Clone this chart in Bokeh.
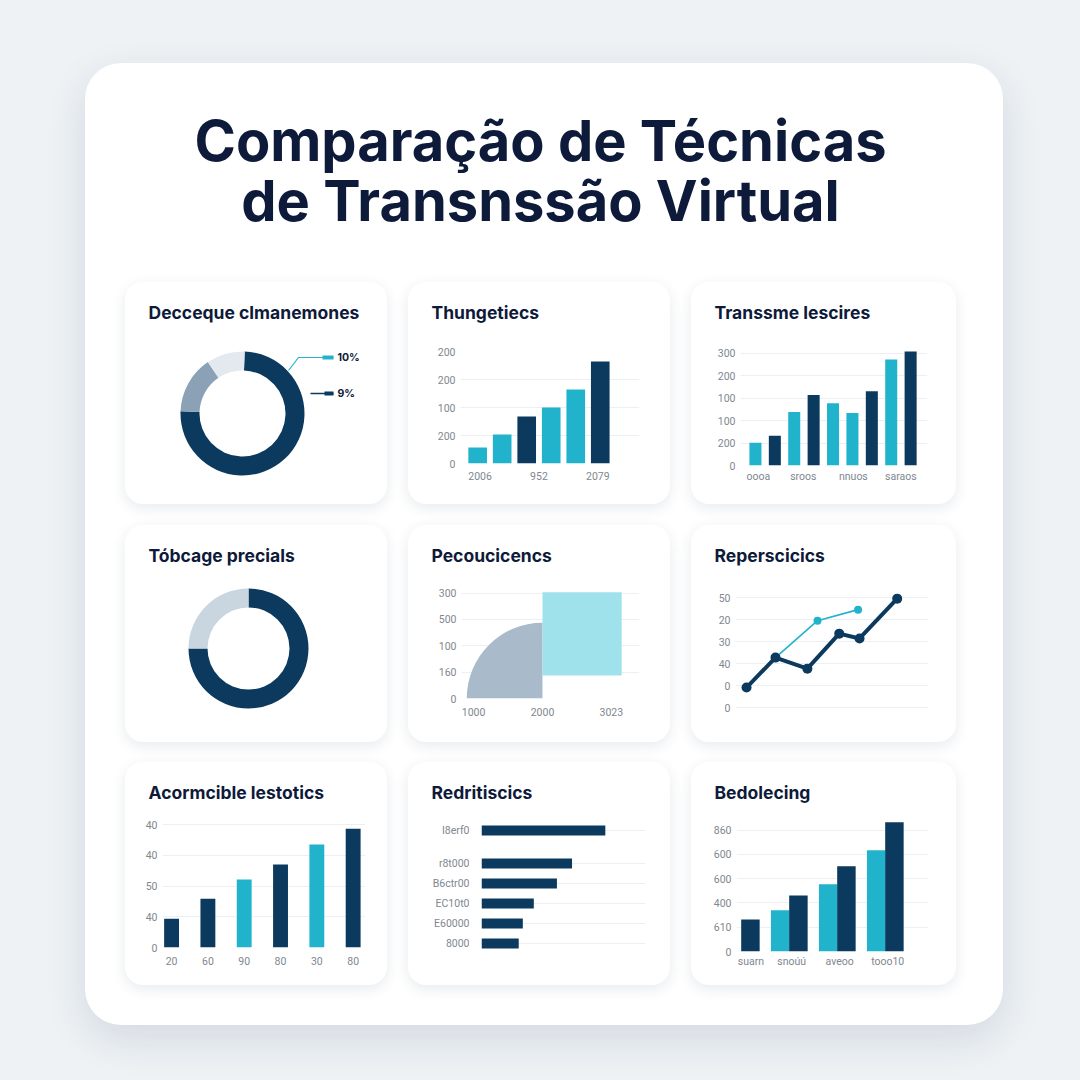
from bokeh.plotting import figure
from bokeh.layouts import column, row
from bokeh.models import Spacer, FixedTicker, ColumnDataSource
from bokeh.core.properties import value
from bokeh.embed import file_html
from bokeh.resources import INLINE

# ---------------- data ----------------
TITLE_1 = "Comparação de Técnicas"
TITLE_2 = "de Transnssão Virtual"

# panel 1 : donut
dec_title = "Decceque clmanemones"
dec_shares = [75, 15, 10]
dec_callouts = ["10%", "9%"]

# panel 2 : bars
thu_title = "Thungetiecs"
thu_values = [57, 104, 168, 200, 264, 364]
thu_kind = ["t", "t", "n", "t", "t", "n"]
thu_yticks = [0, 100, 200, 300, 400]
thu_ylabels = ["0", "200", "100", "200", "200"]
thu_xticks = [1.1, 3.5, 5.9]
thu_xlabels = ["2006", "952", "2079"]

# panel 3 : bars
tra_title = "Transsme lescires"
tra_values = [101, 132, 238, 313, 277, 233, 330, 471, 507]
tra_kind = ["t", "n", "t", "n", "t", "t", "n", "t", "n"]
tra_yticks = [0, 100, 200, 300, 400, 500]
tra_ylabels = ["0", "200", "100", "100", "200", "300"]
tra_xticks = [1.15, 3.47, 6.05, 8.5]
tra_xlabels = ["oooa", "sroos", "nnuos", "saraos"]

# panel 4 : donut
tob_title = "Tóbcage precials"
tob_shares = [75, 25]

# panel 5 : area shapes
pec_title = "Pecoucicencs"
pec_wedge_x = [2000]
pec_wedge_r = [1100]
pec_block_left = [2000]
pec_block_right = [3150]
pec_block_bottom = [87]
pec_block_top = [403]
pec_xticks = [1000, 2000, 3000]
pec_xlabels = ["1000", "2000", "3023"]
pec_yticks = [0, 100, 200, 300, 400]
pec_ylabels = ["0", "160", "100", "500", "300"]

# panel 6 : lines
rep_title = "Reperscicics"
rep_x = [0, 1, 2.1, 3.2, 3.9, 5.2]
rep_y = [9.1, 22.7, 17.7, 33.6, 31.4, 49.5]
rep2_x = [1, 2.45, 3.85]
rep2_y = [22.7, 39.5, 44.5]
rep_yticks = [0, 10, 20, 30, 40, 50]
rep_ylabels = ["0", "0", "40", "30", "20", "50"]

# panel 7 : bars
aco_title = "Acormcible lestotics"
aco_values = [9.4, 15.9, 22.1, 27.0, 33.5, 38.7]
aco_kind = ["n", "n", "t", "n", "t", "n"]
aco_xlabels = ["20", "60", "90", "80", "30", "80"]
aco_yticks = [0, 10, 20, 30, 40]
aco_ylabels = ["0", "40", "50", "40", "40"]

# panel 8 : horizontal bars
red_title = "Redritiscics"
red_labels = ["I8erf0", "r8t000", "B6ctr00", "EC10t0", "E60000", "8000"]
red_values = [75.5, 55.2, 46.0, 31.9, 25.2, 22.7]
red_pos = [5.65, 4, 3, 2, 1, 0]

# panel 9 : grouped bars
bed_title = "Bedolecing"
bed_groups = ["suarn", "snoúú", "aveoo", "tooo10"]
bed_teal = [0, 170, 277, 417]
bed_navy = [132, 231, 351, 533]
bed_xticks = [1.2, 2.05, 3.05, 4.05]
bed_yticks = [0, 100, 200, 300, 400, 500]
bed_ylabels = ["0", "610", "400", "600", "600", "860"]

# ---------------- style ----------------
NAVY = "#0c3a5e"
TEAL = "#22b3cc"
SLATE = "#8ba2b6"
LIGHT = "#e3e9ef"
LIGHT2 = "#c9d5df"
INK = "#0e1a3a"
GRID = "#eceff3"
TICK = "#80878f"
BG = "#eef2f5"
FONT = "Inter"
KIND = {"n": NAVY, "t": TEAL}
TH = 50  # height of a panel's title strip

panel_styles = {
    "background-color": "white",
    "border-radius": "18px",
    "box-shadow": "0 4px 14px rgba(20,45,80,0.10)",
}


def blank(p):
    p.border_fill_color = None
    p.background_fill_color = None
    p.outline_line_color = None
    p.frame_align = False
    return p


def title_strip(w, text):
    t = figure(width=w, height=TH, x_range=(0, w), y_range=(0, TH),
               output_backend="svg", toolbar_location=None,
               x_axis_type=None, y_axis_type=None, min_border=0)
    blank(t)
    t.grid.grid_line_color = None
    t.text(x=[23], y=[20], text=[text], text_baseline="middle",
           text_font=value(FONT), text_font_style="bold",
           text_font_size="17.5px", text_color=INK)
    return t


def chart(w, h, bl, br, bt, bb, xr, yr, xaxis=True, yaxis=True, xs=6):
    p = figure(width=w, height=h - TH, x_range=xr, y_range=yr,
               output_backend="svg", toolbar_location=None,
               min_border_left=bl, min_border_right=br,
               min_border_top=bt, min_border_bottom=bb,
               x_axis_type="linear" if xaxis else None,
               y_axis_type="linear" if yaxis else None)
    blank(p)
    for ax in p.axis:
        ax.axis_line_color = None
        ax.major_tick_line_color = None
        ax.minor_tick_line_color = None
        ax.major_tick_out = 0
        ax.major_tick_in = 0
        ax.major_label_text_font = "Roboto"
        ax.major_label_text_font_size = "10.5px"
        ax.major_label_text_color = TICK
    for ax in p.xaxis:
        ax.major_label_standoff = xs
    for ax in p.yaxis:
        ax.major_label_standoff = 5
    for g in p.xgrid:
        g.grid_line_color = None
    for g in p.ygrid:
        g.grid_line_color = GRID
        g.grid_line_width = 1
    return p


def card_of(w, text, p):
    return column(title_strip(w, text), p, styles=panel_styles)


def set_ticks(axis, ticks, labels):
    axis.ticker = FixedTicker(ticks=ticks)
    axis.major_label_overrides = {t: l for t, l in zip(ticks, labels)}


def donut(p, cx, cy, r_in, r_out, shares, colors, start_deg):
    starts, ends = [], []
    acc = 0.0
    total = float(sum(shares))
    for s in shares:
        a0 = start_deg - acc / total * 360.0
        a1 = a0 - s / total * 360.0
        starts.append(a0)
        ends.append(a1)
        acc += s
    src = ColumnDataSource(dict(x=[cx] * len(shares), y=[cy] * len(shares),
                                s=starts, e=ends, c=colors))
    p.annular_wedge(x="x", y="y", inner_radius=r_in, outer_radius=r_out,
                    start_angle="s", end_angle="e", start_angle_units="deg",
                    end_angle_units="deg", direction="clock",
                    fill_color="c", line_color=None, source=src)


# ---------------- main title ----------------
tp = figure(width=918, height=219, x_range=(0, 918), y_range=(0, 219),
            output_backend="svg", toolbar_location=None,
            x_axis_type=None, y_axis_type=None, min_border=0)
blank(tp)
tp.grid.grid_line_color = None
tp.text(x=[455, 455], y=[142, 82], text=[TITLE_1, TITLE_2],
        text_align="center", text_baseline="middle",
        text_font=value(FONT), text_font_style="bold",
        text_font_size="56px", text_color=INK)

# ---------------- panel 1 ----------------
p1 = chart(262, 222, 0, 0, 0, 0, (0, 262), (0, 172), False, False)
p1.grid.grid_line_color = None
donut(p1, 117, 91, 43, 62, dec_shares, [NAVY, SLATE, LIGHT], 88)
p1.line(x=[163, 173, 208], y=[134, 147, 147], line_color=TEAL, line_width=1.2)
p1.line(x=[197, 208], y=[147, 147], line_color=TEAL, line_width=4)
p1.line(x=[185, 208], y=[111, 111], line_color=NAVY, line_width=1.5)
p1.line(x=[199, 208], y=[111, 111], line_color=NAVY, line_width=4)
p1.text(x=[212, 212], y=[147, 111], text=dec_callouts, text_baseline="middle",
        text_font=value(FONT), text_font_size="10.5px", text_font_style="bold",
        text_color=INK)
c1 = card_of(262, dec_title, p1)

# ---------------- panel 2 ----------------
p2 = chart(262, 222, 52, 31, 19, 41, (0.3, 7.6), (0, 400), xs=8)
p2.vbar(x=list(range(1, len(thu_values) + 1)), top=thu_values, width=0.76,
        fill_color=[KIND[k] for k in thu_kind], line_color=None)
set_ticks(p2.yaxis[0], thu_yticks, thu_ylabels)
set_ticks(p2.xaxis[0], thu_xticks, thu_xlabels)
c2 = card_of(262, thu_title, p2)

# ---------------- panel 3 ----------------
p3 = chart(265, 222, 49, 29, 16, 39, (0.23, 9.87), (0, 520), xs=4)
p3.vbar(x=list(range(1, len(tra_values) + 1)), top=tra_values, width=0.62,
        fill_color=[KIND[k] for k in tra_kind], line_color=None)
set_ticks(p3.yaxis[0], tra_yticks, tra_ylabels)
set_ticks(p3.xaxis[0], tra_xticks, tra_xlabels)
c3 = card_of(265, tra_title, p3)

# ---------------- panel 4 ----------------
p4 = chart(262, 217, 0, 0, 0, 0, (0, 262), (0, 167), False, False)
p4.grid.grid_line_color = None
donut(p4, 123, 94, 41, 60, tob_shares, [NAVY, LIGHT2], 90)
c4 = card_of(262, tob_title, p4)

# ---------------- panel 5 ----------------
p5 = chart(262, 217, 53, 31, 15, 44, (824, 3409), (0, 410), xs=9)
p5.wedge(x=pec_wedge_x, y=[0], radius=pec_wedge_r, start_angle=90, end_angle=180,
         start_angle_units="deg", end_angle_units="deg",
         fill_color="#a9bacb", line_color=None)
p5.quad(left=pec_block_left, right=pec_block_right, bottom=pec_block_bottom,
        top=pec_block_top, fill_color="#9fe2ec", line_color=None)
set_ticks(p5.yaxis[0], pec_yticks, pec_ylabels)
set_ticks(p5.xaxis[0], pec_xticks, pec_xlabels)
c5 = card_of(262, pec_title, p5)

# ---------------- panel 6 ----------------
p6 = chart(265, 217, 44, 28, 15, 27, (-0.38, 6.28), (-3.6, 53.2), False, True)
p6.line(rep2_x, rep2_y, line_color=TEAL, line_width=1.6)
p6.scatter(rep2_x, rep2_y, size=8, fill_color=TEAL, line_color=None)
p6.line(rep_x, rep_y, line_color=NAVY, line_width=4)
p6.scatter(rep_x, rep_y, size=10, fill_color=NAVY, line_color=None)
set_ticks(p6.yaxis[0], rep_yticks, rep_ylabels)
c6 = card_of(265, rep_title, p6)

# ---------------- panel 7 ----------------
p7 = chart(262, 223, 37, 22, 6, 38, (0.75, 6.34), (0, 42), xs=9)
p7.vbar(x=list(range(1, len(aco_values) + 1)), top=aco_values, width=0.41,
        fill_color=[KIND[k] for k in aco_kind], line_color=None)
set_ticks(p7.yaxis[0], aco_yticks, aco_ylabels)
set_ticks(p7.xaxis[0], list(range(1, len(aco_xlabels) + 1)), aco_xlabels)
c7 = card_of(262, aco_title, p7)

# ---------------- panel 8 ----------------
p8 = chart(262, 223, 73, 25, 3, 27, (0, 100), (-0.75, 6.4), False, True)
p8.hbar(y=red_pos, right=red_values, left=0, height=0.5, fill_color=NAVY, line_color=None)
set_ticks(p8.yaxis[0], red_pos, red_labels)
p8.yaxis[0].major_label_standoff = 12
c8 = card_of(262, red_title, p8)

# ---------------- panel 9 ----------------
p9 = chart(265, 223, 45, 28, 8, 34, (0.9, 4.9), (0, 540), xs=3)
gx = list(range(1, len(bed_groups) + 1))
p9.vbar(x=[g - 0.19 for g in gx], top=bed_teal, width=0.385, fill_color=TEAL, line_color=None)
p9.vbar(x=[g + 0.19 for g in gx], top=bed_navy, width=0.385, fill_color=NAVY, line_color=None)
set_ticks(p9.yaxis[0], bed_yticks, bed_ylabels)
set_ticks(p9.xaxis[0], bed_xticks, bed_groups)
c9 = card_of(265, bed_title, p9)

# ---------------- layout ----------------
r1 = row(Spacer(width=40), c1, Spacer(width=21), c2, Spacer(width=21), c3)
r2 = row(Spacer(width=40), c4, Spacer(width=21), c5, Spacer(width=21), c6)
r3 = row(Spacer(width=40), c7, Spacer(width=21), c8, Spacer(width=21), c9)
card = column(tp, r1, Spacer(height=21), r2, Spacer(height=20), r3, Spacer(height=40),
              styles={"background-color": "white", "border-radius": "36px",
                      "box-shadow": "0 14px 40px rgba(20,45,80,0.12)"})
root = column(Spacer(height=63), row(Spacer(width=85), card),
              styles={"background-color": BG})

html = file_html(root, INLINE)
html = html.replace("<body>", '<body style="background-color:%s">' % BG)
open("out.html", "w").write(html)
